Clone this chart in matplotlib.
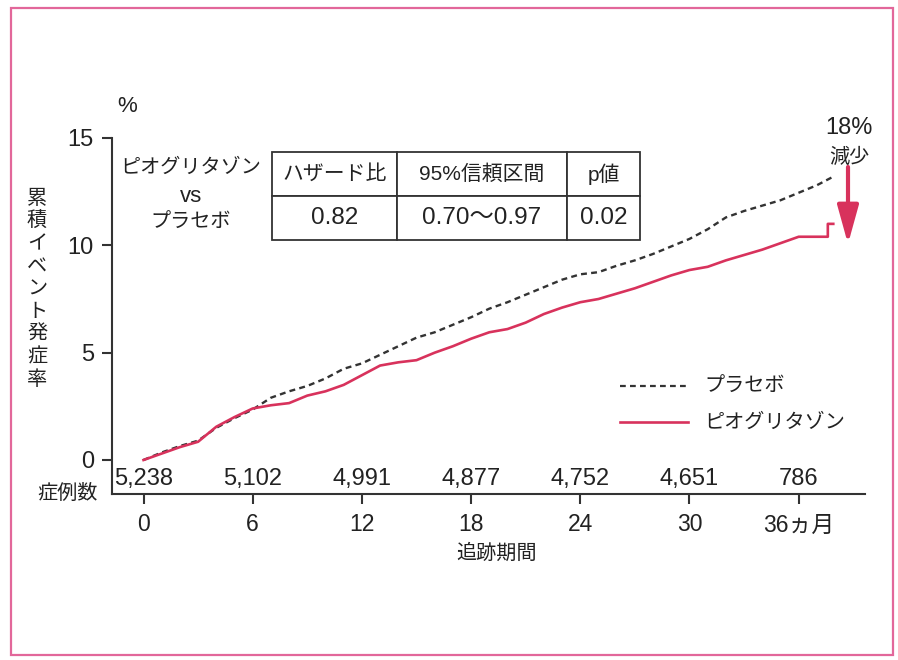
import matplotlib
matplotlib.use("Agg")
import matplotlib.pyplot as plt
from matplotlib.patches import Rectangle, FancyArrowPatch

JP = ['Noto Sans CJK JP', 'DejaVu Sans']
NUM = ['Liberation Sans', 'Noto Sans CJK JP', 'DejaVu Sans']
plt.rcParams['font.family'] = JP

# ---- data ----
placebo_months = [0, 1, 2, 3, 4, 5, 6, 7, 8, 9, 10, 11, 12, 13, 14, 15, 16, 17, 18, 19,
                  20, 21, 22, 23, 24, 25, 26, 27, 28, 29, 30, 31, 32, 33, 34, 35, 36, 37, 37.9]
placebo_vals = [0, 0.35, 0.65, 0.9, 1.5, 1.95, 2.35, 2.9, 3.2, 3.45, 3.8, 4.25, 4.5, 4.9, 5.3,
                5.7, 5.95, 6.3, 6.65, 7.05, 7.35, 7.7, 8.05, 8.4, 8.65, 8.75, 9.05, 9.3, 9.6,
                9.95, 10.3, 10.75, 11.3, 11.6, 11.85, 12.1, 12.45, 12.8, 13.2]

pio_months = [0, 1, 2, 3, 4, 5, 6, 7, 8, 9, 10, 11, 12, 13, 14, 15, 16, 17, 18, 19,
              20, 21, 22, 23, 24, 25, 26, 27, 28, 29, 30, 31, 32, 33, 34, 35, 36, 37, 37.6, 37.6, 37.9]
pio_vals = [0, 0.3, 0.6, 0.85, 1.55, 2.0, 2.4, 2.55, 2.65, 3.0, 3.2, 3.5, 3.95, 4.4, 4.55,
            4.65, 5.0, 5.3, 5.65, 5.95, 6.1, 6.4, 6.8, 7.1, 7.35, 7.5, 7.75, 8.0, 8.3, 8.6,
            8.85, 9.0, 9.3, 9.55, 9.8, 10.1, 10.4, 10.4, 10.4, 11.0, 11.0]

risk_months = [0, 6, 12, 18, 24, 30, 36]
risk_counts = ["5,238", "5,102", "4,991", "4,877", "4,752", "4,651", "786"]

x_ticks = [0, 6, 12, 18, 24, 30, 36]
x_ticklabels = ["0", "6", "12", "18", "24", "30", "36ヵ月"]
y_ticks = [0, 5, 10, 15]

table_header = ["ハザード比", "95%信頼区間", "p値"]
table_values = ["0.82", "0.70〜0.97", "0.02"]

series_names = ["プラセボ", "ピオグリタゾン"]
ylabel_text = "累積イベント発症率"
compare_text = ["ピオグリタゾン", "vs", "プラセボ"]

RED = "#d8325c"
DARK = "#333333"
TXT = "#222222"

W, H = 898, 660
fig = plt.figure(figsize=(W / 100, H / 100), dpi=100)

def fx(px):
    return px / W

def fy(py):
    return 1 - py / H

# pink frame
fig.patches.append(Rectangle((fx(11), fy(655)), fx(893) - fx(11), fy(8) - fy(655),
                             transform=fig.transFigure, fill=False,
                             edgecolor="#e2679a", linewidth=1.6))

ax_l, ax_r, ax_t, ax_b = 112, 865, 138, 494
x0_px, y0_px = 143.5, 460.0
ax = fig.add_axes([fx(ax_l), fy(ax_b), fx(ax_r) - fx(ax_l), fy(ax_t) - fy(ax_b)])

px_per_unit = (y0_px - ax_t) / 15.0
px_per_month = 18.2
ax.set_ylim(-(ax_b - y0_px) / px_per_unit, 15)
ax.set_xlim(-(x0_px - ax_l) / px_per_month, (ax_r - x0_px) / px_per_month)

for s in ["top", "right"]:
    ax.spines[s].set_visible(False)
for s in ["left", "bottom"]:
    ax.spines[s].set_color(DARK)
    ax.spines[s].set_linewidth(1.5)

ax.set_yticks(y_ticks)
ax.set_yticklabels([str(v) for v in y_ticks], fontfamily=NUM, fontsize=17)
ax.set_xticks(x_ticks)
ax.set_xticklabels(x_ticklabels, fontfamily=NUM, fontsize=16.5)
ax.tick_params(axis="both", direction="out", colors=DARK, width=1.5, length=7,
               labelcolor=TXT)
ax.tick_params(axis="x", pad=7)
ax.tick_params(axis="y", pad=6)

# curves
ax.plot(placebo_months, placebo_vals, color=DARK, linewidth=1.7, linestyle=(0, (2.5, 1.8)))
ax.plot(pio_months, pio_vals, color=RED, linewidth=1.9)

# number at risk
risk_y = (y0_px - 479) / px_per_unit
for m, c in zip(risk_months, risk_counts):
    ax.text(m, risk_y, c, ha="center", va="center", fontsize=17, color=TXT, family=NUM)
fig.text(fx(68), fy(493), "症例数", ha="center", va="center", fontsize=14.5, color=TXT)

# axis labels
fig.text(fx(497), fy(553), "追跡期間", ha="center", va="center", fontsize=14.5, color=TXT)
fig.text(fx(127), fy(107), "%", ha="center", va="center", fontsize=16, color=TXT, family=NUM)
yl0, dy = 199, 22.6
for i, ch in enumerate(ylabel_text):
    fig.text(fx(37), fy(yl0 + i * dy), ch, ha="center", va="center", fontsize=14.5, color=TXT)

# comparison label
for txt, yy, fs, fam in zip(compare_text, [167, 196, 222], [14.5, 16, 14.5], [JP, NUM, JP]):
    fig.text(fx(191), fy(yy), txt, ha="center", va="center", fontsize=fs, color=TXT, family=fam)

# table
tl, tr, tt, tb = 272, 640, 152, 240
col_px = [125, 170, 73]
tot = sum(col_px)
bbox = [(tl - ax_l) / (ax_r - ax_l), (ax_b - tb) / (ax_b - ax_t),
        (tr - tl) / (ax_r - ax_l), (tb - tt) / (ax_b - ax_t)]
tbl = ax.table(cellText=[table_header, table_values], colWidths=[c / tot for c in col_px],
               cellLoc="center", bbox=bbox)
tbl.auto_set_font_size(False)
for (r, c), cell in tbl.get_celld().items():
    cell.set_edgecolor(DARK)
    cell.set_linewidth(1.3)
    t = cell.get_text()
    t.set_color(TXT)
    t.set_fontfamily(NUM)
    if r == 0:
        t.set_fontsize(15)
    else:
        t.set_fontsize(17.5)

# legend (manual)
lx0, lx1, ltx = 620, 688, 704
for name, yy, st in zip(series_names, [386, 422], ["placebo", "pio"]):
    fy_ = fy(yy)
    if st == "placebo":
        fig.add_artist(plt.Line2D([fx(lx0), fx(lx1)], [fy_, fy_], transform=fig.transFigure,
                                  color=DARK, linewidth=1.6, linestyle=(0, (2.6, 1.9))))
    else:
        fig.add_artist(plt.Line2D([fx(lx0), fx(lx1)], [fy_, fy_], transform=fig.transFigure,
                                  color=RED, linewidth=1.9))
    fig.text(fx(ltx), fy_, name, ha="left", va="center", fontsize=14.5, color=TXT)

# reduction annotation
fig.text(fx(849), fy(128), "18%", ha="center", va="center", fontsize=17, color=TXT, family=NUM)
fig.text(fx(849), fy(157), "減少", ha="center", va="center", fontsize=14.5, color=TXT)
fig.add_artist(FancyArrowPatch(
    (fx(848), fy(167)), (fx(848), fy(244)), transform=fig.transFigure,
    arrowstyle="-|>,head_length=1.3,head_width=0.36", mutation_scale=18,
    color=RED, linewidth=3.0, shrinkA=0, shrinkB=0))

fig.savefig("out.png", dpi=100)
